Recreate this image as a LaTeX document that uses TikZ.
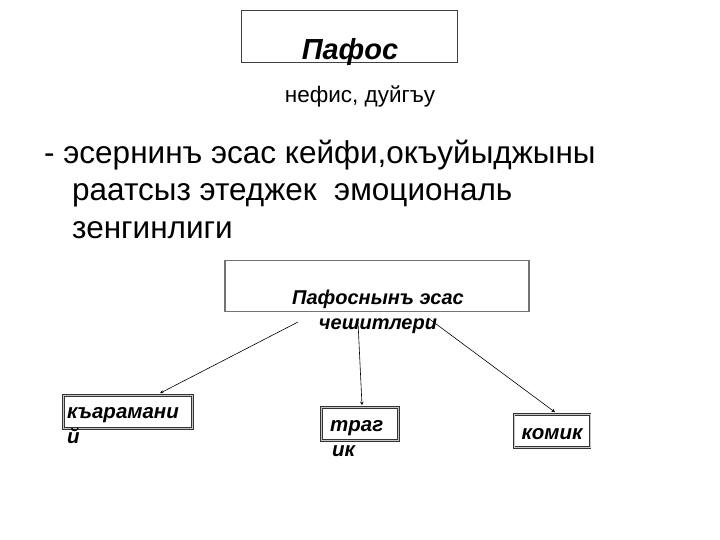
\documentclass[tikz,border=0pt]{standalone}
\usepackage{fontspec}
\setmainfont{Liberation Sans}
\usetikzlibrary{arrows, shapes, positioning, calc}

\begin{document}
\begin{tikzpicture}[x=1pt,y=-1pt,
 title box/.style={draw=black!75,line width=0.9pt,inner sep=0pt},
 kind box/.style={draw=black!80,double=gray!45,double distance=0.9pt,line width=0.6pt,inner sep=0pt},
 box text/.style={font=\bfseries\itshape\fontsize{20.5}{24}\selectfont,inner sep=0pt,anchor=base west},
 arrow/.style={->,>=stealth,line width=0.6pt}]

  \useasboundingbox (0,0) rectangle (720,540);

  % heading
  \node[title box,minimum width=216pt,minimum height=52pt] (pathos) at (349,36) {};
  \node[font=\bfseries\itshape\fontsize{29}{34}\selectfont,inner sep=0pt,anchor=base] (pathosname) at (350,60) {Пафос};
  \node[font=\fontsize{22.5}{27}\selectfont,inner sep=0pt,anchor=base] (meaning) at (360,103) {нефис, дуйгъу};

  % definition
  \node[font=\fontsize{31.5}{37}\selectfont,inner sep=0pt,anchor=base west] (def1) at (44,164) {- эсернинъ эсас кейфи,окъуйыджыны};
  \node[font=\fontsize{31.5}{37}\selectfont,inner sep=0pt,anchor=base west] (def2) at (72,201) {раатсыз этеджек\ \ эмоциональ};
  \node[font=\fontsize{31.5}{37}\selectfont,inner sep=0pt,anchor=base west] (def3) at (72,238) {зенгинлиги};

  % kinds
  \node[title box,draw=black!55,line width=1.2pt,minimum width=304pt,minimum height=51pt] (kinds) at (377,286) {};
  \node[font=\bfseries\itshape\fontsize{20}{24}\selectfont,inner sep=0pt,anchor=base] (kinds1) at (378,304) {Пафоснынъ эсас};
  \node[font=\bfseries\itshape\fontsize{20}{24}\selectfont,inner sep=0pt,anchor=base] (kinds2) at (378,329) {чешитлери};

  \node[kind box,minimum width=129pt,minimum height=33pt] (romantic) at (128,412) {};
  \node[box text] (romantic1) at (67,418) {къарамани};
  \node[box text] (romantic2) at (67,443) {й};

  \node[kind box,minimum width=77pt,minimum height=33pt] (tragic) at (360,424) {};
  \node[box text] (tragic1) at (330,431) {траг};
  \node[box text] (tragic2) at (332,456) {ик};

  \node[kind box,minimum width=76pt,minimum height=33pt] (comic) at (552,431) {};
  \node[box text,anchor=base] (comic1) at (552,439) {комик};

  \coordinate (s1) at (298,322);
  \coordinate (s2) at (358,322);
  \coordinate (s3) at (428,318);

  \foreach \s/\t/\d in {s1/romantic/32, s2/tragic/2, s3/comic/3} {
   \draw[arrow] (\s) -- ($(\t.north)+(\d,-2)$);}

\end{tikzpicture}
\end{document}
